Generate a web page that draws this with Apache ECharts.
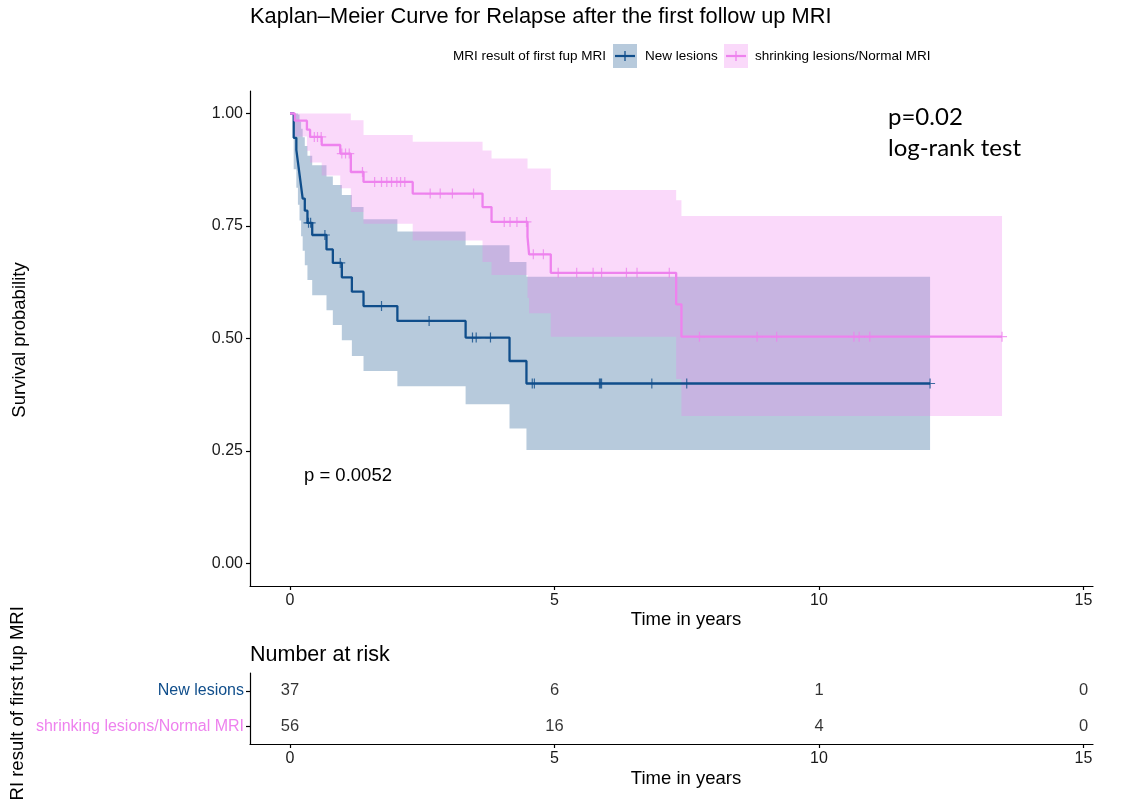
<!DOCTYPE html>
<html>
<head>
<meta charset="utf-8">
<script src="https://cdn.jsdelivr.net/npm/echarts@6/dist/echarts.min.js"></script>
<style>
  html, body { margin: 0; padding: 0; background: #ffffff; }
  #chart { width: 1123px; height: 800px; }
</style>
</head>
<body>
<div id="chart"></div>
<script>
// ---- Kaplan–Meier estimates (time in years) ----
const groupNames = ['New lesions', 'shrinking lesions/Normal MRI'];

// New lesions
const newTimes = [0, 0.07, 0.12, 0.15, 0.18, 0.21, 0.24, 0.28, 0.33, 0.42, 0.69, 0.81, 0.98, 1.17, 1.39, 2.03, 3.32, 4.15, 4.47];
const newSurv  = [1, 0.946, 0.919, 0.892, 0.865, 0.838, 0.811, 0.784, 0.757, 0.730, 0.698, 0.668, 0.636, 0.604, 0.572, 0.539, 0.502, 0.450, 0.400];
const newUpper = [1, 1, 1, 0.998, 0.982, 0.966, 0.947, 0.928, 0.906, 0.885, 0.860, 0.841, 0.819, 0.792, 0.765, 0.738, 0.707, 0.670, 0.637];
const newLower = [1, 0.876, 0.835, 0.797, 0.762, 0.727, 0.695, 0.663, 0.630, 0.596, 0.563, 0.530, 0.496, 0.461, 0.428, 0.394, 0.354, 0.300, 0.252];
const newEnd = 12.10;
const newCensor = [0.35, 0.39, 0.66, 0.95, 1.73, 2.63, 3.45, 3.52, 3.79, 4.58, 4.62, 5.85, 5.87, 5.89, 6.84, 7.50, 12.10];

// shrinking lesions / Normal MRI
const shrinkTimes = [0, 0.09, 0.32, 0.38, 0.60, 0.95, 1.15, 1.39, 2.32, 3.64, 3.81, 4.49, 4.52, 4.93, 7.30, 7.40];
const shrinkSurv  = [1, 0.984, 0.964, 0.948, 0.930, 0.911, 0.870, 0.848, 0.822, 0.792, 0.759, 0.726, 0.687, 0.646, 0.576, 0.504];
const shrinkUpper = [1, 1, 1, 1, 1, 1, 0.985, 0.952, 0.937, 0.918, 0.900, 0.878, 0.878, 0.830, 0.807, 0.772];
const shrinkLower = [1, 0.949, 0.917, 0.891, 0.862, 0.834, 0.781, 0.755, 0.718, 0.670, 0.641, 0.590, 0.556, 0.504, 0.410, 0.328];
const shrinkEnd = 13.46;
const shrinkCensor = [0.46, 0.52, 0.59, 0.98, 1.05, 1.12, 1.37, 1.60, 1.73, 1.83, 1.92, 2.02, 2.09, 2.17,
  2.65, 2.84, 3.07, 3.47, 4.05, 4.16, 4.29, 4.47, 4.60, 4.79, 5.07, 5.42, 5.73, 5.89, 6.36, 6.56, 7.17,
  7.74, 8.83, 9.20, 10.66, 10.76, 10.96, 13.46];

// Number at risk table
const riskTimes = [0, 5, 10, 15];
const newRisk = [37, 6, 1, 0];
const shrinkRisk = [56, 16, 4, 0];

// Axis ticks
const xTicks = [0, 5, 10, 15];
const yTicks = [0, 0.25, 0.5, 0.75, 1];

// ---- styling ----
const BLUE = '#104E8B';
const VIOLET = '#EE82EE';
const BLUE_BAND = 'rgba(16,78,139,0.3)';
const VIOLET_BAND = 'rgba(238,130,238,0.3)';
const FONT = '"Liberation Sans", Arial, Helvetica, sans-serif';
const PLUS = 'path://M-0.12,-1 L0.12,-1 L0.12,-0.12 L1,-0.12 L1,0.12 L0.12,0.12 L0.12,1 L-0.12,1 L-0.12,0.12 L-1,0.12 L-1,-0.12 L-0.12,-0.12 Z';
const X_MIN = -0.756, X_MAX = 15.18;

function stepAt(times, surv, t) {
  let v = surv[0];
  for (let i = 0; i < times.length; i++) { if (times[i] <= t) v = surv[i]; }
  return v;
}
function curveData(times, surv, end) {
  const d = times.map((t, i) => [t, surv[i]]);
  d.push([end, surv[surv.length - 1]]);
  return d;
}
// confidence band as one stepped polygon, placed through the axis scales
function bandSeries(times, lower, upper, end, color) {
  return {
    type: 'custom', xAxisIndex: 0, yAxisIndex: 0, silent: true, z: 1,
    data: times.map((t, i) => [t, lower[i], upper[i]]),
    encode: { x: 0, y: [1, 2] },
    renderItem: function (params, api) {
      if (params.dataIndex !== 0) return;
      const n = times.length, top = [], bottom = [];
      for (let i = 0; i < n; i++) {
        const t1 = i + 1 < n ? times[i + 1] : end;
        top.push(api.coord([times[i], upper[i]]), api.coord([t1, upper[i]]));
        bottom.push(api.coord([times[i], lower[i]]), api.coord([t1, lower[i]]));
      }
      return { type: 'polygon', shape: { points: top.concat(bottom.reverse()) }, style: { fill: color } };
    }
  };
}
function curveSeries(times, surv, end, color) {
  return {
    type: 'line', xAxisIndex: 0, yAxisIndex: 0, step: 'end', showSymbol: false, silent: true, z: 3,
    data: curveData(times, surv, end),
    lineStyle: { color: color, width: 2.3 }, itemStyle: { color: color }
  };
}
function censorSeries(times, surv, censor, color) {
  return {
    type: 'scatter', xAxisIndex: 0, yAxisIndex: 0, silent: true, z: 4,
    symbol: PLUS, symbolSize: 10,
    data: censor.map(t => [t, stepAt(times, surv, t)]),
    itemStyle: { color: color }
  };
}
function riskSeries(row, counts) {
  return {
    type: 'scatter', xAxisIndex: 1, yAxisIndex: 1, silent: true,
    symbolSize: 0, itemStyle: { color: '#000' },
    data: riskTimes.map((t, i) => [t, row, counts[i]]),
    label: { show: true, position: 'inside', formatter: p => String(p.value[2]),
      fontFamily: FONT, fontSize: 16.5, color: '#000' }
  };
}

const axisLine = { show: true, onZero: false, lineStyle: { color: '#000', width: 1.2 } };
const axisTick = { show: true, length: 4, lineStyle: { color: '#000', width: 1.2 } };
const tickLabel = { margin: 7, fontFamily: FONT, fontSize: 16, color: '#1a1a1a' };

function textEl(text, x, y, size, opts) {
  opts = opts || {};
  return {
    type: 'text', x: x, y: y, rotation: opts.rotation || 0, silent: true,
    style: {
      text: text, fill: opts.color || '#000',
      font: 'normal ' + size + 'px ' + (opts.family || FONT),
      align: opts.align || 'left', verticalAlign: 'middle',
      textAlign: opts.align || 'left', textVerticalAlign: 'middle'
    }
  };
}
function legendKey(x, y, lineColor, fillColor) {
  return [
    { type: 'rect', silent: true, shape: { x: x, y: y, width: 24, height: 24 }, style: { fill: fillColor } },
    { type: 'line', silent: true, shape: { x1: x + 2, y1: y + 12, x2: x + 22, y2: y + 12 }, style: { stroke: lineColor, lineWidth: 2.2 } },
    { type: 'line', silent: true, shape: { x1: x + 12, y1: y + 7, x2: x + 12, y2: y + 17 }, style: { stroke: lineColor, lineWidth: 1.3 } }
  ];
}
function timeAxis(gridIndex) {
  return {
    type: 'value', gridIndex: gridIndex, min: X_MIN, max: X_MAX, interval: 5,
    axisLine: axisLine, axisTick: Object.assign({ customValues: xTicks }, axisTick),
    splitLine: { show: false },
    axisLabel: Object.assign({ customValues: xTicks,
      formatter: v => (Math.abs(v % 5) < 1e-6 ? String(v) : '') }, tickLabel)
  };
}

const chart = echarts.init(document.getElementById('chart'), null, { renderer: 'canvas' });
chart.setOption({
  animation: false,
  backgroundColor: '#ffffff',
  grid: [
    { left: 250, top: 91, width: 843, height: 495 },
    { left: 250, top: 673, width: 843, height: 71 }
  ],
  xAxis: [timeAxis(0), timeAxis(1)],
  yAxis: [
    { type: 'value', gridIndex: 0, min: -0.05, max: 1.05, interval: 0.25,
      axisLine: axisLine, axisTick: Object.assign({ customValues: yTicks }, axisTick),
      splitLine: { show: false },
      axisLabel: Object.assign({ customValues: yTicks, formatter: v => v.toFixed(2) }, tickLabel) },
    { type: 'category', gridIndex: 1, inverse: true, data: groupNames,
      axisLine: axisLine, axisTick: Object.assign({ alignWithLabel: true }, axisTick),
      splitLine: { show: false },
      axisLabel: { margin: 6, fontFamily: FONT, fontSize: 16,
        formatter: v => (v === groupNames[0] ? '{a|' + v + '}' : '{b|' + v + '}'),
        rich: { a: { color: BLUE, fontFamily: FONT, fontSize: 16 }, b: { color: VIOLET, fontFamily: FONT, fontSize: 16 } } } }
  ],
  series: [
    bandSeries(newTimes, newLower, newUpper, newEnd, BLUE_BAND),
    bandSeries(shrinkTimes, shrinkLower, shrinkUpper, shrinkEnd, VIOLET_BAND),
    curveSeries(newTimes, newSurv, newEnd, BLUE),
    curveSeries(shrinkTimes, shrinkSurv, shrinkEnd, VIOLET),
    censorSeries(newTimes, newSurv, newCensor, BLUE),
    censorSeries(shrinkTimes, shrinkSurv, shrinkCensor, VIOLET),
    riskSeries(0, newRisk),
    riskSeries(1, shrinkRisk)
  ],
  graphic: [
    textEl('Kaplan\u2013Meier Curve for Relapse after the first follow up MRI', 250, 17, 21.8),
    textEl('MRI result of first fup MRI', 606, 56, 13.5, { align: 'right' }),
    ...legendKey(613, 44, BLUE, BLUE_BAND),
    textEl('New lesions', 645, 56, 13.5),
    ...legendKey(724, 44, VIOLET, VIOLET_BAND),
    textEl('shrinking lesions/Normal MRI', 755, 56, 13.5),
    textEl('p=0.02', 888, 117, 24, { family: 'Lato, "Open Sans", sans-serif' }),
    textEl('log-rank test', 888, 148, 24, { family: 'Lato, "Open Sans", sans-serif' }),
    textEl('p = 0.0052', 304, 476, 18.5),
    textEl('Survival probability', 20, 340, 18.5, { align: 'center', rotation: Math.PI / 2 }),
    textEl('Time in years', 686, 620, 18.5, { align: 'center' }),
    textEl('Number at risk', 250, 655, 21.5),
    textEl('Time in years', 686, 779, 18.5, { align: 'center' }),
    textEl('MRI result of first fup MRI', 18, 711, 18.5, { align: 'center', rotation: Math.PI / 2 })
  ]
});
</script>
</body>
</html>
